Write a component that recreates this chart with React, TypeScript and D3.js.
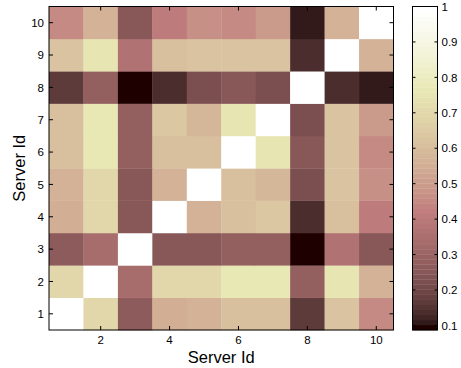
import React from "react";
import * as d3 from "d3";

// Pairwise similarity between servers (upper triangle, symmetric matrix)
const servers = [1, 2, 3, 4, 5, 6, 7, 8, 9, 10];
const pairs: [number, number, number][] = [
  [1, 2, 0.69], [1, 3, 0.27], [1, 4, 0.55], [1, 5, 0.56], [1, 6, 0.61], [1, 7, 0.61], [1, 8, 0.17], [1, 9, 0.62], [1, 10, 0.45],
  [2, 3, 0.33], [2, 4, 0.69], [2, 5, 0.69], [2, 6, 0.76], [2, 7, 0.76], [2, 8, 0.285], [2, 9, 0.745], [2, 10, 0.56],
  [3, 4, 0.25], [3, 5, 0.255], [3, 6, 0.285], [3, 7, 0.285], [3, 8, 0.087], [3, 9, 0.36], [3, 10, 0.25],
  [4, 5, 0.56], [4, 6, 0.61], [4, 7, 0.63], [4, 8, 0.133], [4, 9, 0.61], [4, 10, 0.41],
  [5, 6, 0.61], [5, 7, 0.585], [5, 8, 0.22], [5, 9, 0.625], [5, 10, 0.47],
  [6, 7, 0.745], [6, 8, 0.255], [6, 9, 0.62], [6, 10, 0.455],
  [7, 8, 0.224], [7, 9, 0.62], [7, 10, 0.49],
  [8, 9, 0.133], [8, 10, 0.114],
  [9, 10, 0.57],
];
const xTicks = [2, 4, 6, 8, 10];
const colorTicks = [0.1, 0.2, 0.3, 0.4, 0.5, 0.6, 0.7, 0.8, 0.9, 1];

// Build full matrix
const matrix: number[][] = servers.map((a) => servers.map((b) => (a === b ? 1 : 0)));
pairs.forEach(([a, b, v]) => {
  matrix[a - 1][b - 1] = v;
  matrix[b - 1][a - 1] = v;
});

// MATLAB-style "pink" colormap with 64 entries
const M = 64;
const pinkMap: string[] = (() => {
  const n = Math.floor((3 / 8) * M);
  const out: string[] = [];
  for (let i = 0; i < M; i++) {
    const gray = i / (M - 1);
    const hr = i < n ? (i + 1) / n : 1;
    const hg = i < n ? 0 : i < 2 * n ? (i - n + 1) / n : 1;
    const hb = i < 2 * n ? 0 : (i - 2 * n + 1) / (M - 2 * n);
    const r = Math.sqrt((2 * gray + hr) / 3);
    const g = Math.sqrt((2 * gray + hg) / 3);
    const b = Math.sqrt((2 * gray + hb) / 3);
    out.push(d3.rgb(r * 255, g * 255, b * 255).formatHex());
  }
  return out;
})();

const allVals = matrix.flat();
const cmin = d3.min(allVals) as number;
const cmax = d3.max(allVals) as number;
const colorOf = (v: number) => {
  const idx = Math.min(M - 1, Math.max(0, Math.floor(((v - cmin) / (cmax - cmin)) * M)));
  return pinkMap[idx];
};

const W = 461;
const H = 368;
const plot = { left: 49, right: 393.5, top: 6.5, bottom: 330 };
const cbar = { left: 412.5, right: 437.5, top: 6.5, bottom: 330 };
const font = "'Liberation Sans', Arial, Helvetica, sans-serif";

export default function App() {
  const x = d3.scaleLinear().domain([0.5, 10.5]).range([plot.left, plot.right]);
  const y = d3.scaleLinear().domain([0.5, 10.5]).range([plot.bottom, plot.top]);
  const cy = d3.scaleLinear().domain([cmin, cmax]).range([cbar.bottom, cbar.top]);
  const tl = 4;

  const cells: React.ReactNode[] = [];
  servers.forEach((row) => {
    servers.forEach((col) => {
      const v = matrix[row - 1][col - 1];
      cells.push(
        <rect
          key={`${row}-${col}`}
          x={x(col - 0.5)}
          y={y(row + 0.5)}
          width={x(col + 0.5) - x(col - 0.5) + 0.3}
          height={y(row - 0.5) - y(row + 0.5) + 0.3}
          fill={colorOf(v)}
        />
      );
    });
  });

  const bands = pinkMap.map((c, i) => {
    const v0 = cmin + ((cmax - cmin) * i) / M;
    const v1 = cmin + ((cmax - cmin) * (i + 1)) / M;
    return <rect key={i} x={cbar.left} y={cy(v1)} width={cbar.right - cbar.left} height={cy(v0) - cy(v1) + 0.3} fill={c} />;
  });

  return (
    <svg width={W} height={H} style={{ position: "absolute", left: 0, top: 0, background: "#fff" }} fontFamily={font}>
      <rect width={W} height={H} fill="#fff" />
      {cells}
      {/* axes frame and ticks */}
      <rect x={plot.left} y={plot.top} width={plot.right - plot.left} height={plot.bottom - plot.top} fill="none" stroke="#000" strokeWidth={1} />
      {xTicks.map((t) => (
        <g key={`xt${t}`}>
          <line x1={x(t)} x2={x(t)} y1={plot.bottom} y2={plot.bottom - tl} stroke="#000" />
          <line x1={x(t)} x2={x(t)} y1={plot.top} y2={plot.top + tl} stroke="#000" />
          <text x={x(t)} y={344} textAnchor="middle" fontSize={11.5}>{t}</text>
        </g>
      ))}
      {servers.map((t) => (
        <g key={`yt${t}`}>
          <line x1={plot.left} x2={plot.left + tl} y1={y(t)} y2={y(t)} stroke="#000" />
          <line x1={plot.right} x2={plot.right - tl} y1={y(t)} y2={y(t)} stroke="#000" />
          <text x={44} y={y(t)} dy="0.36em" textAnchor="end" fontSize={11.5}>{t}</text>
        </g>
      ))}
      <text x={(plot.left + plot.right) / 2} y={363} textAnchor="middle" fontSize={16.5}>Server Id</text>
      <text transform={`translate(25,${(plot.top + plot.bottom) / 2}) rotate(-90)`} textAnchor="middle" fontSize={16.5}>Server Id</text>

      {/* colorbar */}
      {bands}
      <rect x={cbar.left} y={cbar.top} width={cbar.right - cbar.left} height={cbar.bottom - cbar.top} fill="none" stroke="#000" />
      {colorTicks.map((t) => (
        <g key={`ct${t}`}>
          <line x1={cbar.left} x2={cbar.left + 3} y1={cy(t)} y2={cy(t)} stroke="#000" />
          <line x1={cbar.right} x2={cbar.right - 3} y1={cy(t)} y2={cy(t)} stroke="#000" />
          <text x={441.5} y={cy(t)} dy="0.36em" fontSize={11.5}>{t}</text>
        </g>
      ))}
    </svg>
  );
}
